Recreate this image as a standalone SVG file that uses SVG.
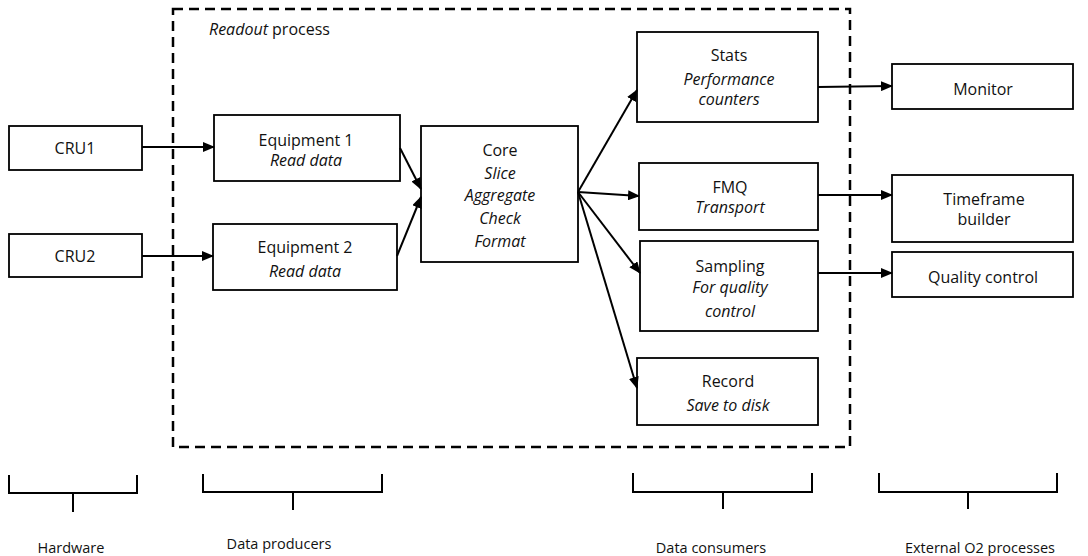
<svg xmlns="http://www.w3.org/2000/svg" width="1088" height="556" viewBox="0 0 1088 556">
<defs>
<marker id="ah" markerUnits="userSpaceOnUse" markerWidth="12" markerHeight="10" refX="11" refY="5" orient="auto">
<path d="M0,0 L12,5 L0,10 Z" fill="#000"/>
</marker>
</defs>
<style>
.box{fill:#fff;stroke:#000;stroke-width:1.8}
.t{font-family:"Open Sans","Liberation Sans",sans-serif;font-size:16px;fill:#111;text-anchor:middle}
.i{font-style:italic}
.lbl{font-family:"Open Sans","Liberation Sans",sans-serif;font-size:14.5px;fill:#111;text-anchor:middle}
.c{stroke:#000;stroke-width:2;fill:none;marker-end:url(#ah)}
.br{stroke:#000;stroke-width:2;fill:none}
</style>
<rect width="1088" height="556" fill="#fff"/>
<g id="readout-process">
<rect x="173" y="9" width="677" height="438" fill="none" stroke="#000" stroke-width="2.5" stroke-dasharray="10 6"/>
<text x="209" y="35" class="t" style="text-anchor:start"><tspan class="i">Readout</tspan> process</text>
</g>
<g id="cru1"><rect class="box" x="9" y="126" width="133" height="44"/><text class="t" x="75" y="154">CRU1</text></g>
<g id="cru2"><rect class="box" x="9" y="234" width="133" height="43"/><text class="t" x="75" y="262">CRU2</text></g>
<g id="equipment1"><rect class="box" x="214" y="115" width="186" height="66"/><text class="t" x="306" y="146">Equipment  1</text><text class="t i" x="306" y="166">Read data</text></g>
<g id="equipment2"><rect class="box" x="213" y="224" width="184" height="66"/><text class="t" x="305" y="253">Equipment  2</text><text class="t i" x="305" y="277">Read data</text></g>
<g id="core"><rect class="box" x="421" y="126" width="157" height="136"/>
<text class="t" x="500" y="156">Core</text>
<text class="t i" x="500" y="179">Slice</text>
<text class="t i" x="500" y="201">Aggregate</text>
<text class="t i" x="500" y="224">Check</text>
<text class="t i" x="500" y="247">Format</text></g>
<g id="stats"><rect class="box" x="637" y="32" width="181" height="90"/><text class="t" x="729" y="61">Stats</text><text class="t i" x="729" y="85">Performance</text><text class="t i" x="729" y="105">counters</text></g>
<g id="fmq"><rect class="box" x="639" y="163" width="179" height="67"/><text class="t" x="730" y="193">FMQ</text><text class="t i" x="730" y="213">Transport</text></g>
<g id="sampling"><rect class="box" x="640" y="241" width="178" height="90"/><text class="t" x="730" y="272">Sampling</text><text class="t i" x="730" y="293">For quality</text><text class="t i" x="730" y="317">control</text></g>
<g id="record"><rect class="box" x="637" y="358" width="181" height="67"/><text class="t" x="728" y="387">Record</text><text class="t i" x="728" y="411">Save to disk</text></g>
<g id="monitor"><rect class="box" x="892" y="64" width="181" height="45"/><text class="t" x="983" y="95">Monitor</text></g>
<g id="timeframe"><rect class="box" x="892" y="175" width="181" height="67"/><text class="t" x="984" y="205">Timeframe</text><text class="t" x="984" y="225">builder</text></g>
<g id="qc"><rect class="box" x="892" y="252" width="181" height="45"/><text class="t" x="983" y="283">Quality  control</text></g>
<g id="connectors">
<line class="c" x1="142" y1="147" x2="214" y2="147"/>
<line class="c" x1="142" y1="256" x2="213" y2="256"/>
<line class="c" x1="400" y1="148" x2="421" y2="189"/>
<line class="c" x1="397" y1="256" x2="421" y2="197"/>
<line class="c" x1="578" y1="192" x2="637" y2="90"/>
<line class="c" x1="578" y1="192" x2="639" y2="196"/>
<line class="c" x1="578" y1="192" x2="640" y2="273"/>
<line class="c" x1="578" y1="192" x2="637" y2="388"/>
<line class="c" x1="818" y1="87" x2="892" y2="86"/>
<line class="c" x1="818" y1="195" x2="892" y2="195"/>
<line class="c" x1="818" y1="273" x2="892" y2="273"/>
</g>
<g id="brackets">
<path class="br" d="M9,475 V493 H137 V475 M73,493 V512"/>
<path class="br" d="M203,474 V492 H382 V474 M293,492 V510"/>
<path class="br" d="M633,473 V492 H812 V473 M723,492 V509"/>
<path class="br" d="M879,473 V492 H1057 V473 M968,492 V509"/>
<text class="lbl" x="71" y="553">Hardware</text>
<text class="lbl" x="279" y="549">Data producers</text>
<text class="lbl" x="711" y="553">Data consumers</text>
<text class="lbl" x="980" y="553">External  O2 processes</text>
</g>
</svg>
